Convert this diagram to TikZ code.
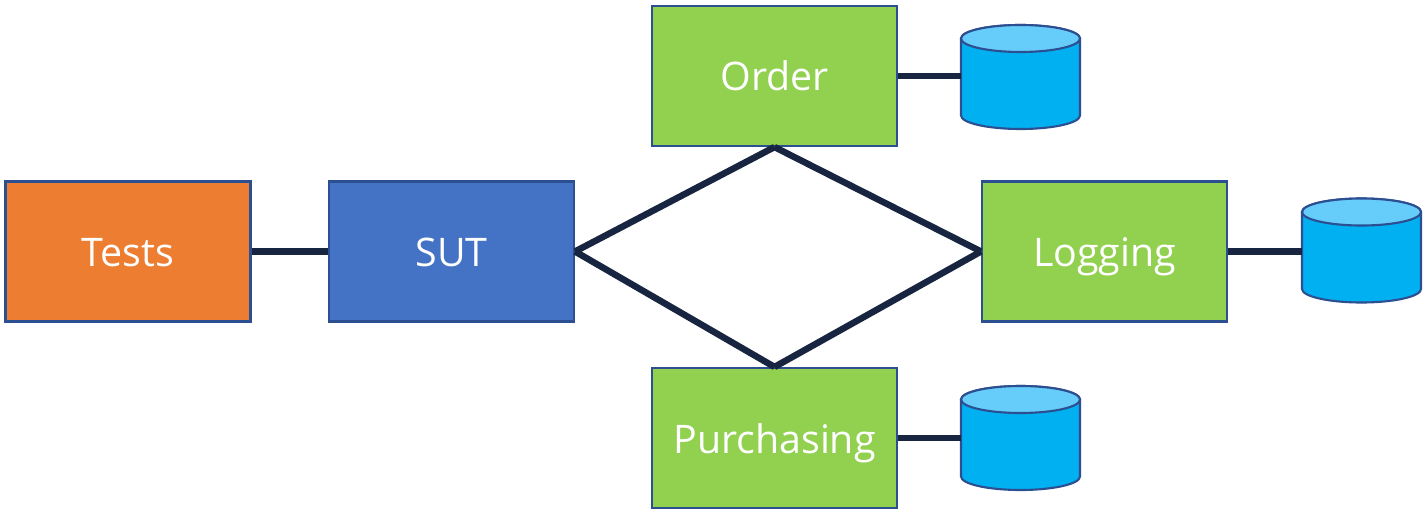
\documentclass[tikz,border=0pt]{standalone}
\usepackage{fontspec}
\setmainfont{Open Sans}
\definecolor{linkcol}{HTML}{172540}
\definecolor{edgecol}{HTML}{2C4F92}
\definecolor{testscol}{HTML}{ED7D31}
\definecolor{sutcol}{HTML}{4472C4}
\definecolor{servicecol}{HTML}{92D050}
\definecolor{dbbody}{HTML}{00B0F0}
\definecolor{dbtop}{HTML}{66CCF9}
\tikzset{
  box/.style={draw=edgecol, line width=1.2pt, minimum width=4.9cm, minimum height=2.8cm,
    inner sep=0pt, text=white, text height=0.6cm, text depth=0cm, font=\fontsize{22.4}{26}\selectfont},
  dbarea/.style={minimum width=2.38cm, minimum height=2.08cm, inner sep=0pt, outer sep=0pt},
  dbline/.style={draw=edgecol, line width=1.2pt},
  link/.style={draw=linkcol, line width=3.7pt},
}
% name, x, y
\newcommand{\database}[3]{
  \node[dbarea] (#1) at (#2,#3) {};
  \draw[dbline, fill=dbbody] ([yshift=-0.27cm]#1.north west) -- ([yshift=0.27cm]#1.south west)
    arc[start angle=180, end angle=360, x radius=1.19cm, y radius=0.27cm]
    -- ([yshift=-0.27cm]#1.north east)
    arc[start angle=0, end angle=180, x radius=1.19cm, y radius=0.27cm] -- cycle;
  \draw[dbline, fill=dbtop] ([yshift=-0.27cm]#1.north) ellipse[x radius=1.19cm, y radius=0.27cm];
}
\begin{document}
\begin{tikzpicture}
\useasboundingbox (0,0) rectangle (28.56,10.3);
% Boxes
\node[box, fill=testscol] (tests) at (2.56,5.27) {Tests};
\node[box, fill=sutcol] (sut) at (9.03,5.27) {SUT};
\node[box, fill=servicecol] (order) at (15.49,8.78) {Order};
\node[box, fill=servicecol] (logging) at (22.09,5.27) {Logging};
\node[box, fill=servicecol] (purchasing) at (15.49,1.54) {Purchasing};
% Databases
\database{orderdb}{20.41}{8.76}
\database{loggingdb}{27.23}{5.29}
\database{purchasingdb}{20.41}{1.54}
% Links
\draw[link] (tests.east) -- (sut.west);
\draw[link] (sut.east) -- (order.south);
\draw[link] (order.south) -- (logging.west);
\draw[link] (sut.east) -- (purchasing.north);
\draw[link] (purchasing.north) -- (logging.west);
\draw[link] (order.east) -- (order.east -| orderdb.west);
\draw[link] (logging.east) -- (logging.east -| loggingdb.west);
\draw[link] (purchasing.east) -- (purchasing.east -| purchasingdb.west);
\end{tikzpicture}
\end{document}
